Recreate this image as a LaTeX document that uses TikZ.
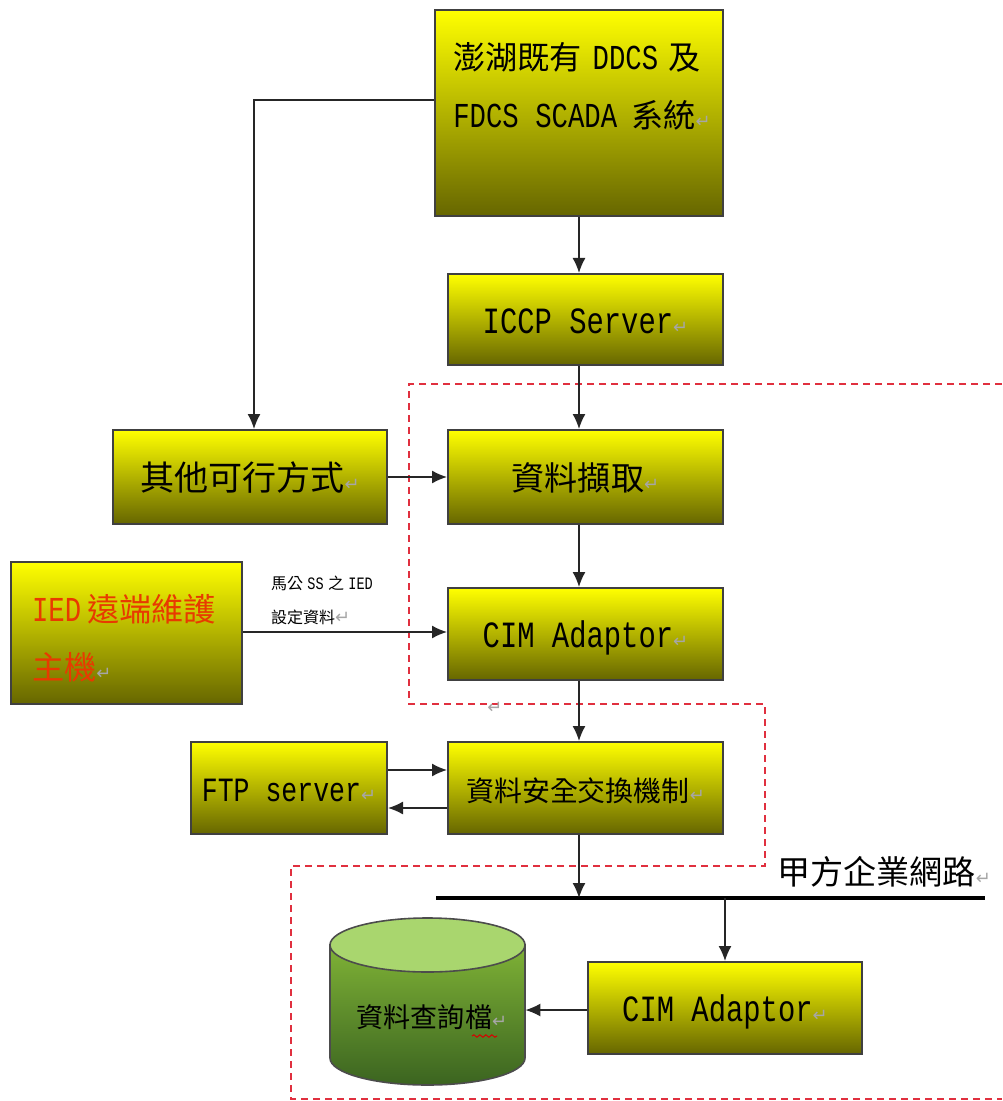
\documentclass[tikz,border=0pt]{standalone}
\usepackage{fontspec}
\usetikzlibrary{arrows.meta,decorations.pathmorphing}
\setmainfont{Liberation Mono}[FakeStretch=0.78]
\newfontfamily\zhfont{Noto Sans CJK TC}[Scale=0.92]
\newfontfamily\markfont{DejaVu Sans}
\newcommand{\zh}[1]{{\zhfont #1}}
\newcommand{\retmark}{{\markfont\fontsize{9}{9}\selectfont\color{gray!70}↵}}
\newcommand{\sized}[1]{\fontsize{#1}{29}\selectfont}
\definecolor{dbtop}{HTML}{7FB236}
\definecolor{dbbot}{HTML}{3B6420}
\definecolor{dblid}{HTML}{A9D66E}
\definecolor{zonered}{HTML}{E0303F}
\definecolor{iedred}{HTML}{E83A00}
\tikzset{
  yellowbox/.style={draw=black!75, line width=1pt, top color=yellow, bottom color=yellow!40!black, inner sep=0pt, align=center, text=black},
  oneline/.style={text height=16.7pt, text depth=3pt},
  flow/.style={-{Latex[length=7.5pt,width=6.5pt]}, line width=0.7pt, draw=black!85},
  zone/.style={draw=zonered, line width=1pt, dash pattern=on 3.5pt off 2.5pt},
}
\begin{document}
\begin{tikzpicture}[x=0.5pt, y=-0.5pt]
  \useasboundingbox (0,0) rectangle (1002,1101);
  % boxes, centres and sizes
  \node[yellowbox, minimum width=144pt, minimum height=103pt] (scada) at (579,113) {};
  \node[font=\sized{17.5}, align=left] (scadatxt) at (582,86) {\zh{澎湖既有}\hspace{0.3em}DDCS\hspace{0.3em}\zh{及}\\FDCS SCADA\hspace{0.4em}\zh{系統}\retmark};
  \node[yellowbox, oneline, minimum width=137.5pt, minimum height=45.5pt, font=\sized{18.5}] (iccp) at (585.5,319.5) {ICCP Server\retmark};
  \node[yellowbox, oneline, minimum width=137.5pt, minimum height=47pt, font=\sized{18}] (fetch) at (585.5,477) {\zh{資料擷取}\retmark};
  \node[yellowbox, oneline, minimum width=137pt, minimum height=47pt, font=\sized{18.5}] (other) at (250,477) {\zh{其他可行方式}\retmark};
  \node[yellowbox, minimum width=115.5pt, minimum height=71pt] (ied) at (126.5,633) {};
  \node[font=\sized{17.5}, align=left, text=iedred, anchor=west] (iedtxt) at (25,638) {IED\,\zh{遠端維護}\\\zh{主機}\retmark};
  \node[yellowbox, oneline, minimum width=137.5pt, minimum height=46pt, font=\sized{18.5}] (cim) at (585.5,634) {CIM Adaptor\retmark};
  \node[yellowbox, oneline, minimum width=98pt, minimum height=46pt, font=\sized{17}] (ftp) at (289,788) {FTP server\retmark};
  \node[yellowbox, oneline, minimum width=137.5pt, minimum height=46pt, font=\sized{15.2}] (secx) at (585.5,788) {\zh{資料安全交換機制}\retmark};
  \node[yellowbox, oneline, minimum width=137pt, minimum height=46pt, font=\sized{18.5}] (cimb) at (725,1008) {CIM Adaptor\retmark};

  % database
  \draw[draw=black!70, line width=0.8pt, top color=dbtop, bottom color=dbbot] (330,945) -- (330,1058) arc [start angle=180, end angle=0, x radius=97.5, y radius=27] -- (525,945) -- cycle;
  \draw[draw=black!70, line width=0.8pt, fill=dblid] (427.5,945) ellipse [x radius=97.5, y radius=27];
  \node[minimum width=97.5pt, minimum height=83.5pt, inner sep=0pt] (db) at (427.5,1001.5) {};
  \node[font=\sized{14.7}] (dbtxt) at (432,1017) {\zh{資料查詢檔}\retmark};
  \draw[red!85!black, line width=0.5pt, decorate, decoration={snake, amplitude=0.6pt, segment length=3pt}] (472,1036) -- (497,1036);

  % bus
  \coordinate (busl) at (436,898);
  \coordinate (busr) at (985,898);
  \draw[line width=2.4pt] (busl) -- (busr);
  \node[font=\sized{18}] (buslabel) at (884,872) {\zh{甲方企業網路}\retmark};

  % dashed zones
  \draw[zone] (1002,384) -- (409,384) -- (409,704) -- (765,704) -- (765,866) -- (291,866) -- (291,1099) -- (1002,1099);
  \node (stray) at (495,708) {\retmark};

  % connectors
  \draw[flow] (scada.south -| 579,0) -- (iccp.north -| 579,0);
  \draw[flow] (iccp.south -| 579,0) -- (fetch.north -| 579,0);
  \draw[flow] (fetch.south -| 579,0) -- (cim.north -| 579,0);
  \draw[flow] (cim.south -| 579,0) -- (secx.north -| 579,0);
  \draw[flow] (secx.south -| 579,0) -- (busl -| 579,0);
  \draw[flow] (busl -| cimb.north) -- (cimb.north);
  \draw[flow] (cimb.west |- 0,1010) -- (db.east |- 0,1010);
  \draw[flow] (scada.west |- 0,100) -| (other.north -| 254,0);
  \draw[flow] (other.east) -- (fetch.west);
  \draw[flow] (ied.east |- 0,632) -- (cim.west |- 0,632);
  \draw[flow] (ftp.east |- 0,770) -- (secx.west |- 0,770);
  \draw[flow] (secx.west |- 0,808) -- (ftp.east |- 0,808);

  % link note
  \node[font=\fontsize{8.7}{17}\selectfont, align=left, anchor=west] (note) at (264,600) {\zh{馬公}\hspace{0.25em}SS\hspace{0.25em}\zh{之}\hspace{0.25em}IED\\\zh{設定資料}\retmark};
\end{tikzpicture}
\end{document}
